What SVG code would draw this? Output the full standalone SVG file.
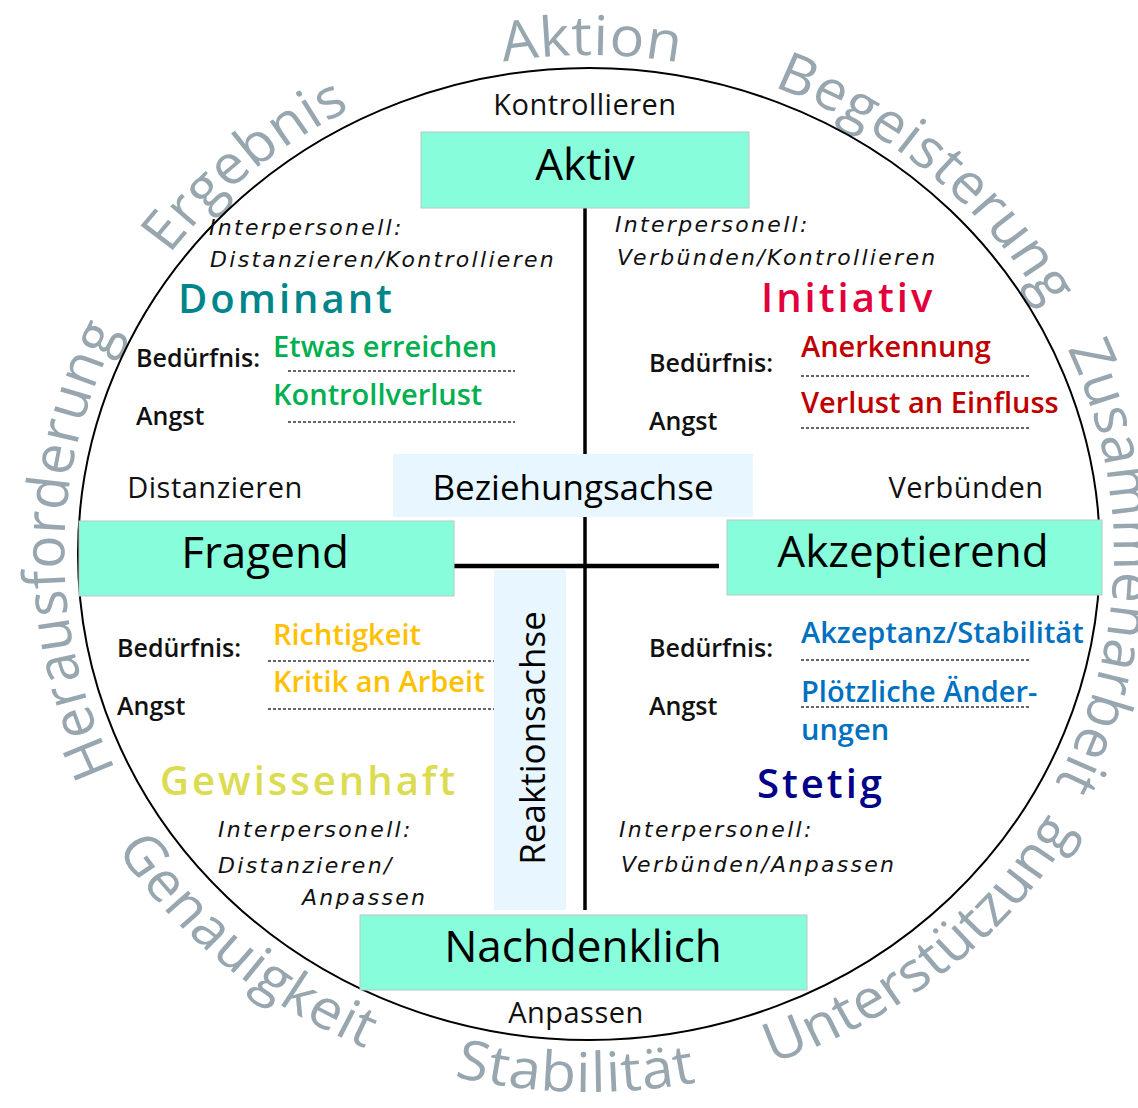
<svg xmlns="http://www.w3.org/2000/svg" width="1138" height="1108" viewBox="0 0 1138 1108">
  <defs>
    <style>
      .outer { font-family: "Open Sans", "Noto Sans", sans-serif; font-size: 55px; fill: #97a6af; letter-spacing: 0.8px; text-anchor: middle; }
      .box { fill: #87fddb; stroke: #b8c8c2; stroke-width: 1; }
      .axisbox { fill: #e7f6ff; }
      .lbl { font-family: "Open Sans", "Noto Sans", sans-serif; font-size: 44px; fill: #000; text-anchor: middle; }
      .axislbl { font-family: "Open Sans", "Noto Sans", sans-serif; font-size: 35px; fill: #000; text-anchor: middle; }
      .dir { font-family: "Open Sans", "Noto Sans", sans-serif; font-size: 29px; fill: #111; text-anchor: middle; letter-spacing: 0.5px; }
      .ital { font-family: "DejaVu Sans", sans-serif; font-style: italic; font-size: 22px; letter-spacing: 2.3px; fill: #111; }
      .key { font-family: "Open Sans", "Noto Sans", sans-serif; font-weight: 600; font-size: 25px; fill: #111; }
      .val { font-family: "Open Sans", "Noto Sans", sans-serif; font-weight: 600; font-size: 29px; }
      .head { font-family: "Open Sans", "Noto Sans", sans-serif; font-weight: 600; font-size: 40px; letter-spacing: 3px; }
      .dash { stroke: #333; stroke-width: 1.5; stroke-dasharray: 3 2; fill: none; }
      .axis { stroke: #000; fill: none; }
    </style>
    <!-- clockwise ring for the upper labels, starting at the bottom -->
    <path id="ringCw" d="M0,499 A499,499 0 1 1 0,-499 A499,499 0 1 1 0,499"/>
    <!-- counter-clockwise ring for the lower labels, starting at the top -->
    <path id="ringCcw" d="M0,-538 A538,538 0 1 0 0,538 A538,538 0 1 0 0,-538"/>
  </defs>

  <rect width="1138" height="1108" fill="#fff"/>

  <!-- outer ring of keywords -->
  <g id="ring-labels" transform="translate(589,554) scale(1.0515,1)">
    <text class="outer"><textPath href="#ringCw" startOffset="788">Herausforderung</textPath></text>
    <text class="outer"><textPath href="#ringCw" startOffset="1219">Ergebnis</textPath></text>
    <text class="outer"><textPath href="#ringCw" startOffset="1570">Aktion</textPath></text>
    <text class="outer"><textPath href="#ringCw" startOffset="1920">Begeisterung</textPath></text>
    <text class="outer"><textPath href="#ringCw" startOffset="2365">Zusammenarbeit</textPath></text>
    <text class="outer"><textPath href="#ringCcw" startOffset="1315">Genauigkeit</textPath></text>
    <text class="outer"><textPath href="#ringCcw" startOffset="1677">Stabilität</textPath></text>
    <text class="outer"><textPath href="#ringCcw" startOffset="2057">Unterstützung</textPath></text>
  </g>

  <ellipse id="frame" cx="589" cy="554" rx="511" ry="486" fill="none" stroke="#000" stroke-width="2"/>

  <!-- axes -->
  <g id="connectors">
    <line class="axis" x1="585" y1="208" x2="585" y2="910" stroke-width="3.5"/>
    <line class="axis" x1="454" y1="566" x2="719" y2="566" stroke-width="4.5"/>
  </g>

  <g id="beziehungsachse">
    <rect class="axisbox" x="393" y="454" width="360" height="63"/>
    <text class="axislbl" x="573" y="500">Beziehungsachse</text>
  </g>
  <g id="reaktionsachse">
    <rect class="axisbox" x="494" y="570" width="72" height="340"/>
    <text class="axislbl" transform="translate(545,738) rotate(-90)">Reaktionsachse</text>
  </g>

  <!-- pole boxes -->
  <g id="aktiv">
    <rect class="box" x="421" y="132" width="328" height="76"/>
    <text class="lbl" x="585" y="180">Aktiv</text>
  </g>
  <g id="fragend">
    <rect class="box" x="79" y="521" width="375" height="75"/>
    <text class="lbl" x="265" y="568">Fragend</text>
  </g>
  <g id="akzeptierend">
    <rect class="box" x="727" y="520" width="375" height="75"/>
    <text class="lbl" x="913" y="567">Akzeptierend</text>
  </g>
  <g id="nachdenklich">
    <rect class="box" x="360" y="915" width="447" height="75"/>
    <text class="lbl" x="583" y="962">Nachdenklich</text>
  </g>

  <!-- direction words -->
  <g id="directions">
    <text class="dir" x="585" y="115">Kontrollieren</text>
    <text class="dir" x="215" y="498">Distanzieren</text>
    <text class="dir" x="966" y="498">Verbünden</text>
    <text class="dir" x="576" y="1023">Anpassen</text>
  </g>

  <!-- quadrant: Dominant -->
  <g id="dominant">
    <text class="ital" x="209" y="235">Interpersonell:</text>
    <text class="ital" x="210" y="267">Distanzieren/Kontrollieren</text>
    <text class="head" x="178" y="313" fill="#00868a">Dominant</text>
    <text class="key" x="136" y="367">Bedürfnis:</text>
    <text class="key" x="136" y="425">Angst</text>
    <text class="val" x="273" y="357" fill="#00b050">Etwas erreichen</text>
    <text class="val" x="273" y="405" fill="#00b050">Kontrollverlust</text>
    <line class="dash" x1="288" y1="371" x2="515" y2="371"/>
    <line class="dash" x1="288" y1="422" x2="515" y2="422"/>
  </g>

  <!-- quadrant: Initiativ -->
  <g id="initiativ">
    <text class="ital" x="615" y="232">Interpersonell:</text>
    <text class="ital" x="617" y="265">Verbünden/Kontrollieren</text>
    <text class="head" x="761" y="312" fill="#e2003c">Initiativ</text>
    <text class="key" x="649" y="372">Bedürfnis:</text>
    <text class="key" x="649" y="430">Angst</text>
    <text class="val" x="801" y="357" fill="#c00000">Anerkennung</text>
    <text class="val" x="801" y="413" fill="#c00000">Verlust an Einfluss</text>
    <line class="dash" x1="801" y1="376" x2="1029" y2="376"/>
    <line class="dash" x1="801" y1="428" x2="1029" y2="428"/>
  </g>

  <!-- quadrant: Gewissenhaft -->
  <g id="gewissenhaft">
    <text class="key" x="117" y="657">Bedürfnis:</text>
    <text class="key" x="117" y="715">Angst</text>
    <text class="val" x="273" y="645" fill="#ffc000">Richtigkeit</text>
    <text class="val" x="273" y="692" fill="#ffc000">Kritik an Arbeit</text>
    <line class="dash" x1="268" y1="661" x2="494" y2="661"/>
    <line class="dash" x1="268" y1="709" x2="494" y2="709"/>
    <text class="head" x="160" y="795" fill="#dcdc50" font-weight="400">Gewissenhaft</text>
    <text class="ital" x="218" y="837">Interpersonell:</text>
    <text class="ital" x="218" y="873">Distanzieren/</text>
    <text class="ital" x="302" y="905">Anpassen</text>
  </g>

  <!-- quadrant: Stetig -->
  <g id="stetig">
    <text class="key" x="649" y="657">Bedürfnis:</text>
    <text class="key" x="649" y="715">Angst</text>
    <text class="val" x="801" y="643" fill="#0070c0">Akzeptanz/Stabilität</text>
    <text class="val" x="801" y="702" fill="#0070c0">Plötzliche Änder-</text>
    <text class="val" x="801" y="740" fill="#0070c0">ungen</text>
    <line class="dash" x1="801" y1="660" x2="1029" y2="660"/>
    <line class="dash" x1="801" y1="707" x2="1029" y2="707"/>
    <text class="head" x="757" y="798" fill="#000088">Stetig</text>
    <text class="ital" x="619" y="837">Interpersonell:</text>
    <text class="ital" x="621" y="872">Verbünden/Anpassen</text>
  </g>
</svg>
